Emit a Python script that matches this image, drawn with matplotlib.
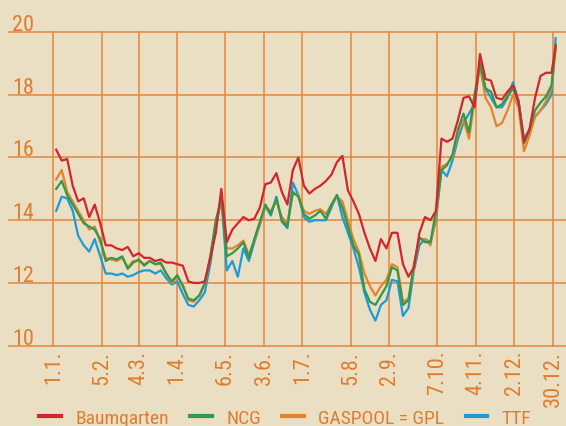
import matplotlib
matplotlib.use("Agg")
import matplotlib.pyplot as plt
from matplotlib.lines import Line2D

# day of year for each sample (roughly every 4 days)
days = [2, 6, 10, 14, 18, 22, 26, 30, 34, 38, 42, 46, 50, 54, 58, 62, 66, 70, 74, 78,
        82, 86, 90, 94, 98, 102, 106, 110, 114, 118, 122, 126, 130, 134, 138, 142, 146,
        150, 154, 158, 162, 166, 170, 174, 178, 182, 186, 190, 194, 198, 202, 206, 210,
        214, 218, 222, 226, 230, 234, 238, 242, 246, 250, 254, 258, 262, 266, 270, 274,
        278, 282, 286, 290, 294, 298, 302, 306, 310, 314, 318, 322, 326, 330, 334, 338,
        342, 346, 350, 354, 358, 362, 365]

baumgarten = [16.25, 15.9, 15.95, 15.1, 14.6, 14.7, 14.1, 14.5, 13.9, 13.2, 13.2, 13.1,
              13.05, 13.15, 12.85, 12.95, 12.8, 12.8, 12.7, 12.75, 12.65, 12.65, 12.6, 12.55,
              12.05, 12.0, 12.0, 12.05, 12.8, 13.6, 15.0, 13.3, 13.7, 13.9, 14.1, 14.0, 14.05,
              14.4, 15.15, 15.2, 15.5, 14.9, 14.5, 15.6, 16.0, 15.1, 14.85, 15.0, 15.1, 15.25,
              15.45, 15.85, 16.05, 14.95, 14.6, 14.2, 13.6, 13.1, 12.7, 13.4, 13.1, 13.6, 13.6,
              12.6, 12.2, 12.5, 13.6, 14.1, 14.0, 14.3, 16.6, 16.5, 16.6, 17.2, 17.9, 17.95,
              17.6, 19.3, 18.5, 18.45, 17.9, 17.85, 18.1, 18.3, 17.8, 16.5, 16.9, 17.9, 18.6,
              18.7, 18.7, 19.55]

ncg = [15.0, 15.25, 14.8, 14.5, 14.2, 13.9, 13.8, 13.7, 13.4, 12.7, 12.8, 12.75, 12.85,
       12.45, 12.65, 12.75, 12.55, 12.7, 12.6, 12.65, 12.3, 12.05, 12.25, 11.9, 11.5, 11.45,
       11.6, 12.0, 12.85, 14.0, 14.7, 12.85, 12.95, 13.1, 13.3, 12.8, 13.4, 13.95, 14.5,
       14.2, 14.7, 14.0, 13.8, 14.9, 14.75, 14.2, 14.05, 14.15, 14.3, 14.05, 14.5, 14.8,
       14.4, 13.8, 13.2, 12.9, 11.8, 11.4, 11.3, 11.6, 11.9, 12.5, 12.4, 11.3, 11.45, 12.6,
       13.45, 13.3, 13.3, 14.3, 15.6, 15.75, 16.1, 16.9, 17.4, 16.8, 18.0, 19.0, 18.2, 18.1,
       17.6, 17.7, 17.95, 18.2, 17.75, 16.45, 16.9, 17.5, 17.75, 17.95, 18.3, 19.6]

gaspool = [15.3, 15.6, 14.9, 14.6, 14.3, 14.0, 13.7, 13.8, 13.3, 12.8, 12.75, 12.7, 12.8,
           12.5, 12.7, 12.7, 12.6, 12.7, 12.6, 12.6, 12.3, 12.0, 12.2, 11.95, 11.45, 11.4,
           11.6, 11.95, 12.8, 13.9, 14.6, 13.1, 13.1, 13.2, 13.35, 12.9, 13.35, 13.9, 14.4,
           14.3, 14.6, 14.1, 13.9, 14.85, 14.8, 14.3, 14.2, 14.3, 14.35, 14.2, 14.5, 14.75,
           14.6, 14.0, 13.4, 13.0, 12.3, 11.9, 11.6, 11.9, 12.1, 12.6, 12.5, 11.4, 11.5, 12.5,
           13.4, 13.4, 13.2, 14.1, 15.7, 15.8, 16.0, 16.8, 17.2, 16.6, 17.8, 18.9, 17.9, 17.6,
           17.0, 17.1, 17.5, 18.0, 17.6, 16.2, 16.7, 17.3, 17.5, 17.8, 18.2, 19.45]

ttf = [14.3, 14.75, 14.7, 14.3, 13.5, 13.2, 13.0, 13.4, 12.85, 12.3, 12.3, 12.25, 12.3,
       12.2, 12.25, 12.35, 12.4, 12.4, 12.3, 12.4, 12.15, 11.95, 12.05, 11.65, 11.3, 11.25,
       11.45, 11.7, 12.6, 13.8, 14.7, 12.4, 12.7, 12.2, 13.1, 12.7, 13.3, 13.85, 14.45,
       14.15, 14.75, 13.95, 13.75, 15.2, 14.8, 14.1, 13.95, 14.0, 14.0, 14.0, 14.4, 14.8,
       14.1, 13.6, 13.1, 12.5, 11.7, 11.15, 10.8, 11.3, 11.45, 12.1, 12.05, 10.95, 11.2,
       12.4, 13.2, 13.4, 13.3, 14.0, 15.6, 15.4, 15.9, 16.6, 17.1, 17.4, 17.7, 19.0, 18.2,
       17.9, 17.6, 17.6, 17.9, 18.4, 17.8, 16.6, 16.9, 17.3, 17.5, 17.7, 18.0, 19.8]

tick_days = [0, 35, 62, 90, 125, 153, 181, 216, 244, 279, 307, 335, 363]
tick_labels = ["1.1.", "5.2.", "4.3.", "1.4.", "6.5.", "3.6.", "1.7.", "5.8.", "2.9.",
               "7.10.", "4.11.", "2.12.", "30.12."]
y_levels = [10, 12, 14, 16, 18, 20]

BG = "#eadec3"
GRID = "#e2863a"
TEXT = "#e07d2c"
FONT = ["Roboto Condensed", "Barlow Semi Condensed", "Sofia Sans Semi Condensed",
        "Archivo Narrow", "DejaVu Sans"]

series = [
    ("Baumgarten", baumgarten, "#d2262c"),
    ("NCG", ncg, "#2f9a49"),
    ("GASPOOL = GPL", gaspool, "#e5832c"),
    ("TTF", ttf, "#1c9bd8"),
]

fig = plt.figure(figsize=(5.66, 4.27), dpi=100, facecolor=BG)
ax = fig.add_axes([9 / 566, 80.3 / 427, 557 / 566, 313.7 / 427])
ax.set_facecolor("none")
for s in ax.spines.values():
    s.set_visible(False)

ax.set_xlim(-32.3, 372.5)
ax.set_ylim(10, 20)

for y in y_levels:
    ax.axhline(y, color=GRID, lw=1.1, clip_on=False, zorder=1)
    ax.text(0.006, y + 0.07, str(y), transform=ax.get_yaxis_transform(),
            ha="left", va="baseline", color=TEXT, fontsize=16, family=FONT)
for d in tick_days:
    ax.axvline(d, color=GRID, lw=1.1, clip_on=False, zorder=1)

# draw blue first so red ends up on top
for name, vals, col in reversed(series):
    ax.plot(days, vals, color=col, lw=1.6, zorder=3, solid_joinstyle="round")

ax.set_yticks([])
ax.set_xticks(tick_days)
ax.set_xticklabels(tick_labels, rotation=90, color=TEXT, fontsize=16, family=FONT,
                   va="top", ha="center")
ax.tick_params(axis="x", length=0, pad=3)

handles = [Line2D([], [], color=col, lw=3) for _, _, col in series]
leg = fig.legend(handles, [n for n, _, _ in series], loc="center", ncol=4,
                 bbox_to_anchor=(0.504, 0.019), frameon=False,
                 handlelength=1.1, handletextpad=0.75, columnspacing=1.1,
                 prop={"family": FONT, "size": 14})
for t in leg.get_texts():
    t.set_color(TEXT)

fig.savefig("out.png", dpi=100, facecolor=BG)
